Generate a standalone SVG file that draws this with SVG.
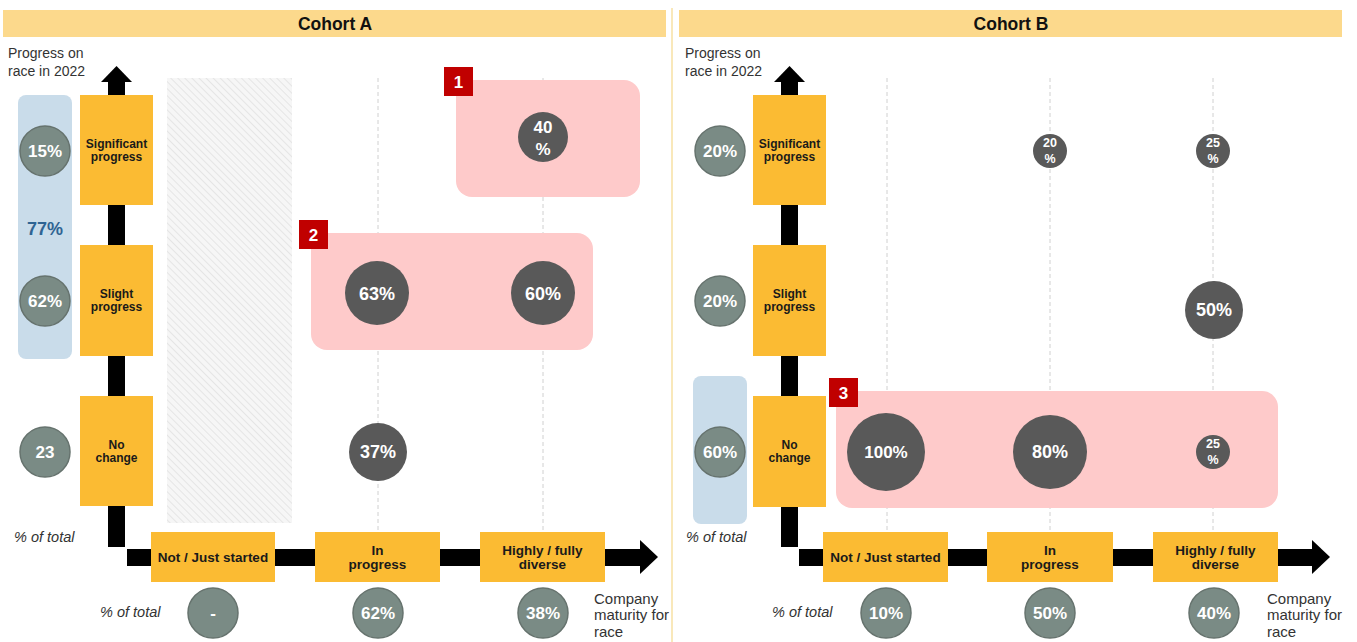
<svg xmlns="http://www.w3.org/2000/svg" width="1357" height="642" viewBox="0 0 1357 642">
<defs>
<style>
.hdr{fill:#FCD98C}
.hdrt{font:bold 17.5px "Liberation Sans",Arial,sans-serif;fill:#111;text-anchor:middle}
.ax{fill:#000}
.yb{fill:#FBBB33}
.yt{font:bold 12px "Liberation Sans",Arial,sans-serif;fill:#1a1a1a;text-anchor:middle}
.bt{font:bold 13.5px "Liberation Sans",Arial,sans-serif;fill:#1a1a1a;text-anchor:middle}
.gc{fill:#7A8B85;stroke:#66736E;stroke-width:1.5}
.dc{fill:#595959}
.ct{font:bold 17px "Liberation Sans",Arial,sans-serif;fill:#fff;text-anchor:middle}
.cs{font:bold 12.5px "Liberation Sans",Arial,sans-serif;fill:#fff;text-anchor:middle}
.lbl{font:14px "Liberation Sans",Arial,sans-serif;fill:#333}
.it{font:italic 14.5px "Liberation Sans",Arial,sans-serif;fill:#333}
.cm{font:15px "Liberation Sans",Arial,sans-serif;fill:#333}
.blue{fill:#C9DCEA}
.pink{fill:#FECACA}
.red{fill:#C00000}
.rt{font:bold 17px "Liberation Sans",Arial,sans-serif;fill:#fff;text-anchor:middle}
.dash{stroke:#D0D0D0;stroke-width:1;stroke-dasharray:4 3;fill:none}
</style>
<pattern id="hatch" width="5" height="5" patternUnits="userSpaceOnUse" patternTransform="rotate(-45)">
<rect width="5" height="5" fill="#F6F6F6"/>
<line x1="0" y1="0" x2="0" y2="5" stroke="#E0E0E0" stroke-width="1.5"/>
</pattern>
</defs>
<rect width="1357" height="642" fill="#fff"/>

<!-- headers and divider -->
<g id="headers">
<rect class="hdr" x="3" y="10" width="663" height="27"/>
<text class="hdrt" x="335" y="30">Cohort A</text>
<rect class="hdr" x="679" y="10" width="663" height="27"/>
<text class="hdrt" x="1011" y="30">Cohort B</text>
<line x1="672" y1="8" x2="672" y2="642" stroke="#F5D98C" stroke-width="1.2"/>
</g>

<!-- background areas -->
<g id="backgrounds">
<rect x="167" y="78" width="125" height="445" fill="url(#hatch)"/>
<line class="dash" x1="378" y1="78" x2="378" y2="532"/>
<line class="dash" x1="543" y1="78" x2="543" y2="532"/>
<line class="dash" x1="887" y1="78" x2="887" y2="532"/>
<line class="dash" x1="1050" y1="78" x2="1050" y2="532"/>
<line class="dash" x1="1213" y1="78" x2="1213" y2="532"/>
<rect class="blue" x="18" y="95" width="54" height="264" rx="8"/>
<rect class="blue" x="693" y="376" width="54" height="148" rx="8"/>
</g>

<!-- axes (connectors) -->
<g id="connectors">
<rect class="ax" x="108" y="80" width="17" height="467"/>
<polygon class="ax" points="101,82 116.5,66 132,82"/>
<rect class="ax" x="127" y="549" width="514" height="17"/>
<polygon class="ax" points="640,540 658,557 640,574"/>
<rect class="ax" x="781" y="80" width="17" height="467"/>
<polygon class="ax" points="774,82 789.5,66 805,82"/>
<rect class="ax" x="799" y="549" width="514" height="17"/>
<polygon class="ax" points="1312,540 1330,557 1312,574"/>
</g>

<!-- Cohort A texts -->
<g id="a-axis-labels">
<text class="lbl" x="8" y="58">Progress on</text>
<text class="lbl" x="8" y="76">race in 2022</text>
<text class="it" x="14" y="542">% of total</text>
<text class="it" x="100" y="617">% of total</text>
<text class="cm" x="594" y="604">Company</text>
<text class="cm" x="594" y="620">maturity for</text>
<text class="cm" x="594" y="637">race</text>
<text x="45" y="235" text-anchor="middle" style="font:bold 18px 'Liberation Sans',Arial,sans-serif;fill:#2F6493">77%</text>
</g>

<g id="a-sig"><rect class="yb" x="80" y="95" width="73" height="110"/><text class="yt" x="116.5" y="148">Significant</text><text class="yt" x="116.5" y="161">progress</text></g>
<g id="a-slight"><rect class="yb" x="80" y="245" width="73" height="111"/><text class="yt" x="116.5" y="298">Slight</text><text class="yt" x="116.5" y="311">progress</text></g>
<g id="a-nochange"><rect class="yb" x="80" y="396" width="73" height="110"/><text class="yt" x="116.5" y="449">No</text><text class="yt" x="116.5" y="462">change</text></g>
<g id="a-notstarted"><rect class="yb" x="151" y="532" width="124" height="50"/><text class="bt" x="213" y="562">Not / Just started</text></g>
<g id="a-inprogress"><rect class="yb" x="315" y="532" width="125" height="50"/><text class="bt" x="377.5" y="555">In</text><text class="bt" x="377.5" y="569">progress</text></g>
<g id="a-highly"><rect class="yb" x="480" y="532" width="125" height="50"/><text class="bt" x="542.5" y="555">Highly / fully</text><text class="bt" x="542.5" y="569">diverse</text></g>

<g id="a-left-15"><circle class="gc" cx="45" cy="151" r="25"/><text class="ct" x="45" y="157">15%</text></g>
<g id="a-left-62"><circle class="gc" cx="45" cy="301" r="25"/><text class="ct" x="45" y="307">62%</text></g>
<g id="a-left-23"><circle class="gc" cx="45" cy="452" r="25"/><text class="ct" x="45" y="458">23</text></g>
<g id="a-bot-0"><circle class="gc" cx="213" cy="613" r="25"/><text class="ct" x="213" y="619">-</text></g>
<g id="a-bot-62"><circle class="gc" cx="378" cy="613" r="25"/><text class="ct" x="378" y="619">62%</text></g>
<g id="a-bot-38"><circle class="gc" cx="543" cy="613" r="25"/><text class="ct" x="543" y="619">38%</text></g>

<g id="a-box1"><rect class="pink" x="456" y="80" width="184" height="117" rx="16"/><rect class="red" x="444" y="67" width="29" height="29"/><text class="rt" x="458.5" y="88">1</text></g>
<g id="a-box2"><rect class="pink" x="311" y="233" width="282" height="117" rx="16"/><rect class="red" x="299" y="220" width="29" height="29"/><text class="rt" x="313.5" y="241">2</text></g>

<g id="a-c40"><circle class="dc" cx="543" cy="137" r="25"/><text class="ct" x="543" y="133">40</text><text class="ct" x="543" y="155">%</text></g>
<g id="a-c63"><circle class="dc" cx="377" cy="293" r="32"/><text class="ct" x="377" y="300" style="font-size:18px">63%</text></g>
<g id="a-c60"><circle class="dc" cx="543" cy="293" r="32"/><text class="ct" x="543" y="300" style="font-size:18px">60%</text></g>
<g id="a-c37"><circle class="dc" cx="378" cy="452" r="29"/><text class="ct" x="378" y="458" style="font-size:18px">37%</text></g>

<!-- Cohort B texts -->
<g id="b-axis-labels">
<text class="lbl" x="685" y="58">Progress on</text>
<text class="lbl" x="685" y="76">race in 2022</text>
<text class="it" x="686" y="542">% of total</text>
<text class="it" x="772" y="617">% of total</text>
<text class="cm" x="1267" y="604">Company</text>
<text class="cm" x="1267" y="620">maturity for</text>
<text class="cm" x="1267" y="637">race</text>
</g>

<g id="b-sig"><rect class="yb" x="753" y="95" width="73" height="110"/><text class="yt" x="789.5" y="148">Significant</text><text class="yt" x="789.5" y="161">progress</text></g>
<g id="b-slight"><rect class="yb" x="753" y="245" width="73" height="111"/><text class="yt" x="789.5" y="298">Slight</text><text class="yt" x="789.5" y="311">progress</text></g>
<g id="b-nochange"><rect class="yb" x="753" y="396" width="73" height="111"/><text class="yt" x="789.5" y="449">No</text><text class="yt" x="789.5" y="462">change</text></g>
<g id="b-notstarted"><rect class="yb" x="823" y="532" width="125" height="50"/><text class="bt" x="885.5" y="562">Not / Just started</text></g>
<g id="b-inprogress"><rect class="yb" x="987" y="532" width="126" height="50"/><text class="bt" x="1050" y="555">In</text><text class="bt" x="1050" y="569">progress</text></g>
<g id="b-highly"><rect class="yb" x="1153" y="532" width="125" height="50"/><text class="bt" x="1215.5" y="555">Highly / fully</text><text class="bt" x="1215.5" y="569">diverse</text></g>

<g id="b-left-20a"><circle class="gc" cx="720" cy="151" r="25"/><text class="ct" x="720" y="157">20%</text></g>
<g id="b-left-20b"><circle class="gc" cx="720" cy="301" r="25"/><text class="ct" x="720" y="307">20%</text></g>
<g id="b-left-60"><circle class="gc" cx="720" cy="452" r="25"/><text class="ct" x="720" y="458">60%</text></g>
<g id="b-bot-10"><circle class="gc" cx="886" cy="613" r="25"/><text class="ct" x="886" y="619">10%</text></g>
<g id="b-bot-50"><circle class="gc" cx="1050" cy="613" r="25"/><text class="ct" x="1050" y="619">50%</text></g>
<g id="b-bot-40"><circle class="gc" cx="1214" cy="613" r="25"/><text class="ct" x="1214" y="619">40%</text></g>

<g id="b-box3"><rect class="pink" x="836" y="391" width="442" height="117" rx="16"/><rect class="red" x="829" y="378" width="29" height="29"/><text class="rt" x="843.5" y="399">3</text></g>

<g id="b-c20"><circle class="dc" cx="1050" cy="151" r="17"/><text class="cs" x="1050" y="147">20</text><text class="cs" x="1050" y="163">%</text></g>
<g id="b-c25a"><circle class="dc" cx="1213" cy="151" r="17"/><text class="cs" x="1213" y="147">25</text><text class="cs" x="1213" y="163">%</text></g>
<g id="b-c50"><circle class="dc" cx="1214" cy="310" r="29"/><text class="ct" x="1214" y="316" style="font-size:18px">50%</text></g>
<g id="b-c100"><circle class="dc" cx="886" cy="452" r="39"/><text class="ct" x="886" y="458">100%</text></g>
<g id="b-c80"><circle class="dc" cx="1050" cy="452" r="37"/><text class="ct" x="1050" y="458" style="font-size:18px">80%</text></g>
<g id="b-c25b"><circle class="dc" cx="1213" cy="452" r="17"/><text class="cs" x="1213" y="448">25</text><text class="cs" x="1213" y="464">%</text></g>
</svg>
